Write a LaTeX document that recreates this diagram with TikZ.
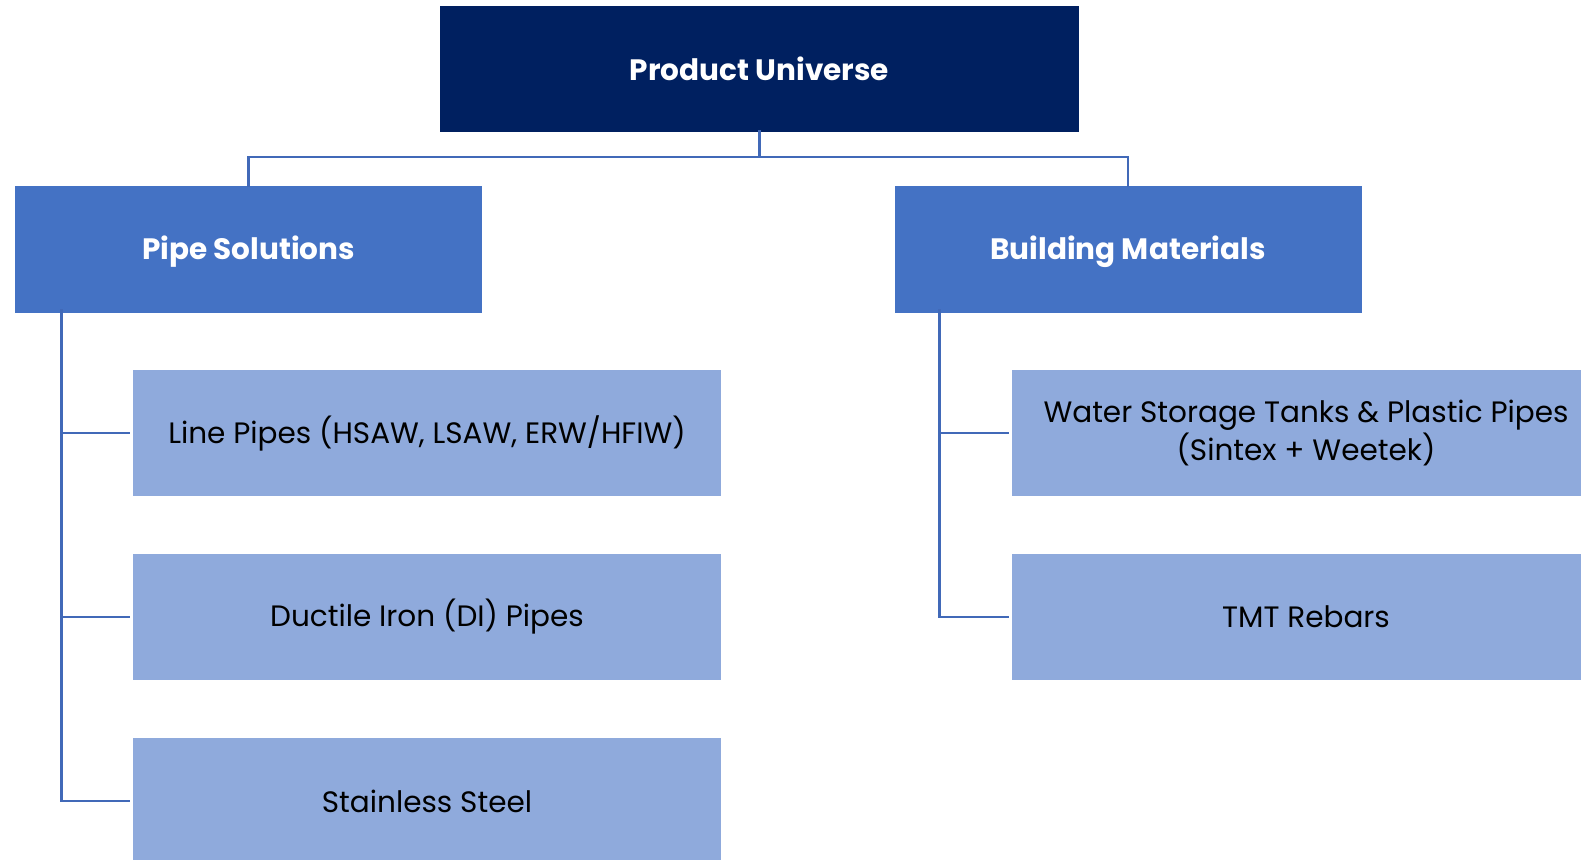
\documentclass[tikz,border=0pt]{standalone}
\usepackage{fontspec}
\setmainfont{Poppins}
\begin{document}
\begin{tikzpicture}[x=1pt,y=-1pt,
  every node/.style={inner sep=0pt, outer sep=0pt, align=center},
  rootbox/.style={fill=navy, text=white, font=\fontsize{29.5}{35}\selectfont\bfseries,
    minimum width=639pt, minimum height=126pt},
  groupbox/.style={fill=midblue, text=white, font=\fontsize{29.5}{35}\selectfont\bfseries,
    minimum width=467pt, minimum height=127pt, text height=20.6pt, text depth=0pt},
  itembox/.style={fill=lightblue, text=black, font=\fontsize{29.5}{38.5}\selectfont,
    minimum width=588pt, minimum height=126pt},
  link/.style={draw=linkblue, line width=2.5pt}
]
\definecolor{navy}{HTML}{002060}
\definecolor{midblue}{HTML}{4472C4}
\definecolor{lightblue}{HTML}{8FAADC}
\definecolor{linkblue}{HTML}{4169B8}

\useasboundingbox (0,0) rectangle (1581,859);
\clip (0,0) rectangle (1581,859);

% boxes
\node[rootbox]  (root)  at (759.5,69)  {Product Universe};
\node[groupbox] (pipe)  at (248.5,249.5) {Pipe Solutions};
\node[groupbox] (build) at (1128,249.5)  {Building Materials};

\node[itembox] (lp) at (427,433) {Line Pipes (HSAW, LSAW, ERW/HFIW)};
\node[itembox] (di) at (427,617) {Ductile Iron (DI) Pipes};
\node[itembox] (ss) at (427,801) {Stainless Steel};

\node[itembox] (wt) at (1306,433) {Water Storage Tanks \& Plastic Pipes\\(Sintex + Weetek)};
\node[itembox] (tmt) at (1306,617) {TMT Rebars};

% top-level bus
\coordinate (bus) at (759.5,157);
\draw[link] ([yshift=2pt]root.south) -- (bus);
\draw[link] (bus) -| ([yshift=-1pt]pipe.north);
\draw[link] (bus) -| ([yshift=-1pt]build.north);

% left trunk
\coordinate (ltop) at ([xshift=46.5pt,yshift=4pt]pipe.south west);
\draw[link] (ltop) |- ([xshift=-3pt]ss.west);
\draw[link] (ltop |- lp.west) -- ([xshift=-3pt]lp.west);
\draw[link] (ltop |- di.west) -- ([xshift=-3pt]di.west);

% right trunk
\coordinate (rtop) at ([xshift=45pt,yshift=4pt]build.south west);
\draw[link] (rtop) |- ([xshift=-3pt]tmt.west);
\draw[link] (rtop |- wt.west) -- ([xshift=-3pt]wt.west);
\end{tikzpicture}
\end{document}
